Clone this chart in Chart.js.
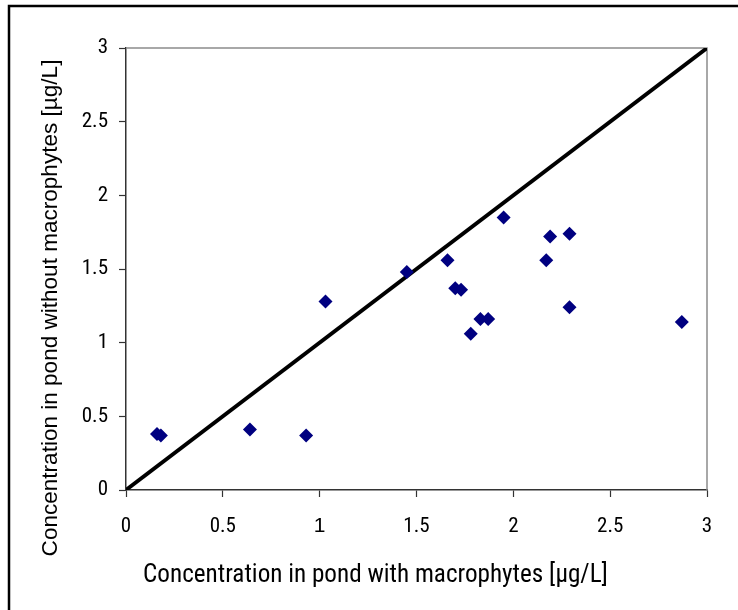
<!DOCTYPE html>
<html>
<head>
<meta charset="utf-8">
<script src="https://cdn.jsdelivr.net/npm/chart.js@4/dist/chart.umd.min.js"></script>
<style>
html,body{margin:0;padding:0;background:#fff;}
#wrap{width:738px;height:610px;position:relative;}
</style>
</head>
<body>
<div id="wrap"><canvas id="c" width="738" height="610"></canvas></div>
<script>
// Data
const withMacrophytes    = [0.16, 0.18, 0.64, 0.93, 1.03, 1.45, 1.66, 1.70, 1.73, 1.78, 1.83, 1.87, 1.95, 2.17, 2.19, 2.29, 2.29, 2.87];
const withoutMacrophytes = [0.38, 0.37, 0.41, 0.37, 1.28, 1.48, 1.56, 1.37, 1.36, 1.06, 1.16, 1.16, 1.85, 1.56, 1.72, 1.74, 1.24, 1.14];
const oneToOneX = [0, 3];
const oneToOneY = [0, 3];
const tickValues = [0, 0.5, 1, 1.5, 2, 2.5, 3];
const xTitle = 'Concentration in pond with macrophytes [µg/L]';
const yTitle = 'Concentration in pond without macrophytes [µg/L]';

const narrow = "'Roboto Condensed', 'Liberation Sans Narrow', sans-serif";
const regular = "'Liberation Sans', Arial, sans-serif";

const points = withMacrophytes.map((x, i) => ({x: x, y: withoutMacrophytes[i]}));
const line = oneToOneX.map((x, i) => ({x: x, y: oneToOneY[i]}));

function fitText(ctx, text, family, weight, target) {
  ctx.font = weight + ' 20px ' + family;
  const w = ctx.measureText(text).width;
  const size = 20 * target / w;
  ctx.font = weight + ' ' + size.toFixed(2) + 'px ' + family;
}

const decor = {
  id: 'decor',
  beforeDraw(chart) {
    const ctx = chart.ctx;
    ctx.save();
    ctx.fillStyle = '#fff';
    ctx.fillRect(0, 0, chart.width, chart.height);
    ctx.strokeStyle = '#000';
    ctx.lineWidth = 2.5;
    ctx.beginPath();
    ctx.moveTo(9, 610);
    ctx.lineTo(9, 6);
    ctx.lineTo(738, 6);
    ctx.stroke();
    ctx.restore();
  },
  beforeDatasetsDraw(chart) {
    const {ctx, chartArea: a} = chart;
    ctx.save();
    ctx.strokeStyle = '#8c8c8c';
    ctx.lineWidth = 1.5;
    ctx.beginPath();
    ctx.moveTo(a.left, a.top);
    ctx.lineTo(a.right, a.top);
    ctx.lineTo(a.right, a.bottom);
    ctx.stroke();
    ctx.restore();
  },
  afterDraw(chart) {
    const ctx = chart.ctx;
    ctx.save();
    ctx.fillStyle = '#000';
    ctx.textAlign = 'center';
    ctx.textBaseline = 'middle';
    fitText(ctx, xTitle, narrow, 'normal', 465);
    ctx.fillText(xTitle, 375.5, 576);
    ctx.translate(51, 308);
    ctx.rotate(-Math.PI / 2);
    fitText(ctx, yTitle, regular, 'normal', 497);
    ctx.fillText(yTitle, 0, 0);
    ctx.restore();
  }
};

new Chart(document.getElementById('c'), {
  type: 'scatter',
  data: {
    datasets: [
      {
        type: 'line',
        data: line,
        borderColor: '#000',
        borderWidth: 3.8,
        pointRadius: 0,
        fill: false,
        order: 2
      },
      {
        data: points,
        pointStyle: 'rectRot',
        pointRadius: 7,
        pointBackgroundColor: '#000080',
        pointBorderColor: '#000080',
        pointBorderWidth: 0,
        order: 1
      }
    ]
  },
  options: {
    responsive: false,
    animation: false,
    events: [],
    layout: {padding: {top: 48, right: 31, left: 0, bottom: 0}},
    plugins: {legend: {display: false}, tooltip: {enabled: false}},
    scales: {
      x: {
        type: 'linear',
        min: 0, max: 3,
        afterFit(s) { s.height = 120; },
        afterBuildTicks(s) { s.ticks = tickValues.map(v => ({value: v})); },
        border: {color: '#333', width: 1.5},
        grid: {drawOnChartArea: false, tickLength: 7, color: '#333', tickWidth: 1.2},
        ticks: {
          color: '#000', padding: 17, maxRotation: 0,
          font: c => (c.tick && c.tick.value === 1) ? {family: regular, size: 21} : {family: narrow, size: 21},
          callback: v => String(v)
        }
      },
      y: {
        type: 'linear',
        min: 0, max: 3,
        afterFit(s) { s.width = 126; },
        afterBuildTicks(s) { s.ticks = tickValues.map(v => ({value: v})); },
        border: {color: '#333', width: 1.5},
        grid: {drawOnChartArea: false, tickLength: 7, color: '#333', tickWidth: 1.2},
        ticks: {color: '#000', padding: 11, font: {family: narrow, size: 21}, callback: v => String(v)}
      }
    }
  },
  plugins: [decor]
});
</script>
</body>
</html>
